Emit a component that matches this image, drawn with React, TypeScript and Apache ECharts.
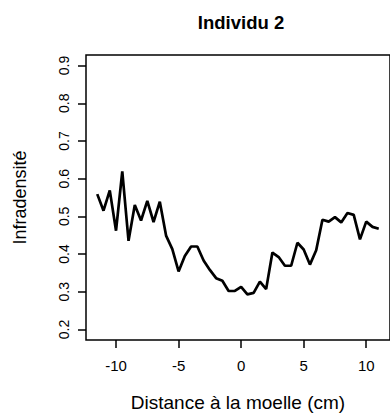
import React, { useEffect, useRef } from "react";
import * as echarts from "echarts";

const distances = [
  -11.5, -11, -10.5, -10, -9.5, -9, -8.5, -8, -7.5, -7, -6.5, -6, -5.5, -5, -4.5, -4,
  -3.5, -3, -2.5, -2, -1.5, -1, -0.5, 0, 0.5, 1, 1.5, 2, 2.5, 3, 3.5, 4, 4.5, 5, 5.5,
  6, 6.5, 7, 7.5, 8, 8.5, 9, 9.5, 10, 10.5, 11,
];
const infradensite = [
  0.559, 0.515, 0.569, 0.462, 0.619, 0.435, 0.53, 0.489, 0.541, 0.485, 0.539, 0.449,
  0.413, 0.354, 0.395, 0.42, 0.42, 0.383, 0.358, 0.336, 0.329, 0.302, 0.302, 0.313,
  0.293, 0.297, 0.327, 0.307, 0.404, 0.392, 0.369, 0.369, 0.43, 0.412, 0.372, 0.41,
  0.491, 0.486, 0.498, 0.484, 0.509, 0.504, 0.439, 0.486, 0.472, 0.467,
];
const xTicks = [-10, -5, 0, 5, 10];
const yTicks = [0.2, 0.3, 0.4, 0.5, 0.6, 0.7, 0.8, 0.9];
const titleText = "Individu 2";
const xName = "Distance à la moelle (cm)";
const yName = "Infradensité";

const FONT = "'Liberation Sans', Arial, Helvetica, sans-serif";

export default function App() {
  const ref = useRef<HTMLDivElement>(null);
  useEffect(() => {
    if (!ref.current) return;
    const chart = echarts.init(ref.current, undefined, { renderer: "svg" });
    const data = distances.map((d, i) => [d, infradensite[i]]);
    chart.setOption({
      animation: false,
      backgroundColor: "#fff",
      textStyle: { fontFamily: FONT, color: "#000" },
      graphic: [
        {
          type: "text",
          x: 241,
          y: 22.5,
          style: {
            text: titleText,
            font: `bold 18.5px ${FONT}`,
            fill: "#000",
            textAlign: "center",
            textVerticalAlign: "middle",
          },
        },
      ],
      grid: {
        left: 86,
        top: 55,
        width: 310,
        height: 286,
        show: true,
        borderColor: "#000",
        borderWidth: 1.5,
        backgroundColor: "transparent",
      },
      xAxis: {
        type: "value",
        min: -12.4,
        max: 11.9,
        name: xName,
        nameLocation: "middle",
        nameGap: 53,
        nameTextStyle: { fontSize: 19, color: "#000", fontFamily: FONT },
        axisLine: { show: false, onZero: false },
        splitLine: { show: false },
        axisTick: {
          show: true,
          length: 8,
          customValues: xTicks,
          lineStyle: { color: "#000", width: 1.5 },
        },
        axisLabel: {
          customValues: xTicks,
          fontSize: 15,
          color: "#000",
          fontFamily: FONT,
          margin: 18,
        },
      },
      yAxis: {
        type: "value",
        min: 0.172,
        max: 0.928,
        name: yName,
        nameLocation: "middle",
        nameGap: 57,
        nameRotate: 90,
        nameTextStyle: { fontSize: 18, color: "#000", fontFamily: FONT },
        axisLine: { show: false, onZero: false },
        splitLine: { show: false },
        axisTick: {
          show: true,
          length: 8,
          customValues: yTicks,
          lineStyle: { color: "#000", width: 1.5 },
        },
        axisLabel: {
          customValues: yTicks,
          rotate: 90,
          fontSize: 14,
          color: "#000",
          fontFamily: FONT,
          margin: 15,
          formatter: (v: number) => v.toFixed(1),
        },
      },
      series: [
        {
          type: "line",
          data,
          symbol: "none",
          lineStyle: { color: "#000", width: 2.7 },
          clip: true,
        },
      ],
    });
    return () => chart.dispose();
  }, []);
  return (
    <div
      ref={ref}
      style={{ position: "fixed", left: 0, top: 0, width: 390, height: 417, background: "#fff" }}
    />
  );
}
